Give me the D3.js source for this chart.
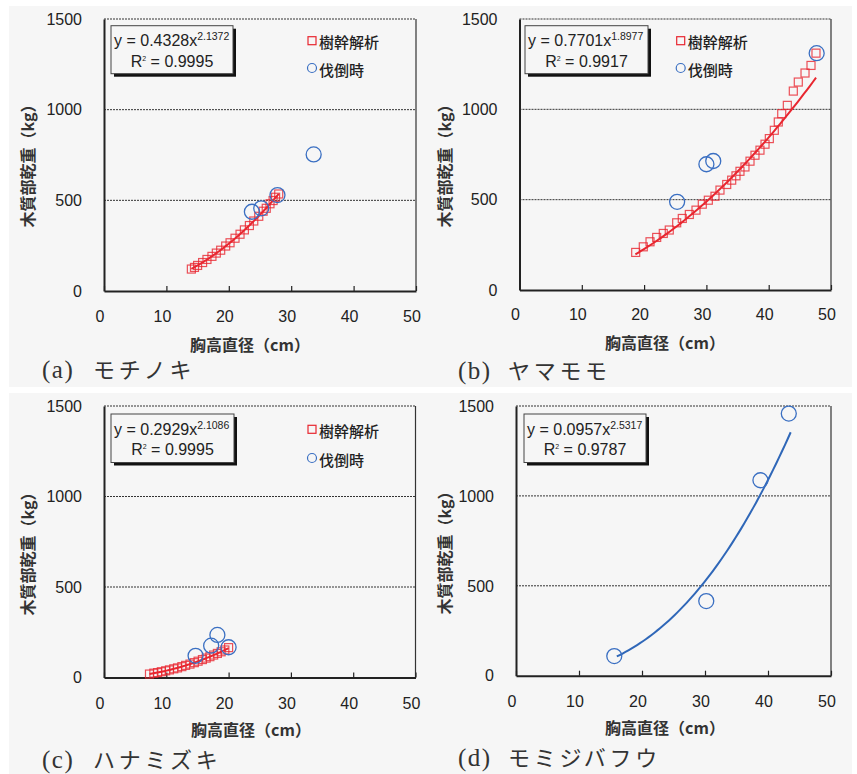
<!DOCTYPE html>
<html>
<head>
<meta charset="utf-8">
<script src="https://cdn.jsdelivr.net/npm/d3@7"></script>
<style>
  body { margin: 0; background: #fff; }
  svg { display: block; }
  .tick-lbl { font-family: "Liberation Sans", Arial, sans-serif; font-size: 16px; fill: #222; }
  .ax-title { font-family: "Noto Sans CJK JP", sans-serif; font-size: 16px; font-weight: bold; fill: #333; }
  .leg { font-family: "Noto Sans CJK JP", sans-serif; font-size: 15px; font-weight: 500; fill: #222; }
  .eq { font-family: "Liberation Sans", Arial, sans-serif; font-size: 16px; fill: #222; }
  .cap { font-family: "Liberation Serif", "Noto Sans CJK JP", serif; font-size: 22px; fill: #333; }
</style>
</head>
<body>
<svg id="chart" width="857" height="774"></svg>
<script>
// ---- data ----
const xTicks = [0, 10, 20, 30, 40, 50];
const yTicks = [0, 500, 1000, 1500];
const xTitle = "胸高直径（cm）";
const yTitle = "木質部乾重（kg）";
const legendNames = ["樹幹解析", "伐倒時"];

const captionLetters = ["(a)", "(b)", "(c)", "(d)"];
const speciesNames = ["モチノキ", "ヤマモモ", "ハナミズキ", "モミジバフウ"];

// power trend lines shown in each box: y = a * x^b
const fitA = [0.4328, 0.7701, 0.2929, 0.0957];
const fitB = [2.1372, 1.8977, 2.1086, 2.5317];
const fitR2 = ["0.9995", "0.9917", "0.9995", "0.9787"];
const fitXmin = [14, 18.6, 7.3, 16];
const fitXmax = [28, 47.6, 20, 43.6];
const fitColor = ["#e8262f", "#e8262f", "#e8262f", "#2f67b8"];

// 樹幹解析 (stem analysis) points [dbh, mass]
const stemA = [[14,121],[14.5,130],[15,141],[15.8,157],[16.5,174],[17.3,191],[18,209],[18.7,225],
  [19.5,248],[20.2,266],[21,291],[21.8,313],[22.5,337],[23.3,361],[24,386],[24.8,412],[25.5,440],
  [26,456],[26.6,481],[27.1,499],[27.5,517],[28,535]];
const stemB = [[18.65,208],[19.87,239],[20.95,267],[22.02,291],[23.08,313],[24.04,332],[25.23,372],
  [26.13,396],[27.26,418],[28.33,442],[29.34,475],[30.31,497],[31.38,519],[32.18,553],[33.26,584],
  [34.06,608],[34.75,632],[35.39,657],[36.19,681],[37.0,713],[37.8,746],[38.6,774],[39.41,807],
  [40.1,838],[40.9,884],[41.54,930],[42.09,976],[42.99,1022],[43.95,1101],[44.75,1151],[45.83,1201],
  [46.79,1243],[47.59,1311]];
const stemC = [[7.3,19],[8,24],[8.6,27],[9.2,32],[9.9,37],[10.5,42],[11.2,48],[11.8,53],[12.5,60],
  [13.1,67],[13.8,74],[14.5,82],[15.1,90],[15.8,99],[16.4,107],[17,115],[17.6,124],[18.2,133],
  [18.8,142],[19.4,152],[20,165]];
const stemD = [];

// 伐倒時 (felled) points [dbh, mass]
const fellA = [[23.7,437],[25.2,456],[27.8,529],[33.6,753]];
const fellB = [[25.3,488],[30.0,696],[31.1,714],[47.7,1311]];
const fellC = [[14.7,120],[17.2,176],[18.2,235],[20.0,167]];
const fellD = [[15.6,109],[30.2,415],[38.8,1087],[43.3,1458]];

const stemSets = [stemA, stemB, stemC, stemD];
const fellSets = [fellA, fellB, fellC, fellD];

// ---- layout ----
const panels = [
  { bg: [9, 6, 421, 381], l: 104, r: 416, t: 19, b: 291, box: [111, 25.7, 122, 48], leg: [312, 40.7, 68],
    xt: 250, xty: 351, yt: 28, yty: 162, tl: 322, cap: [42, 93, 378] },
  { bg: [430, 6, 422, 381], l: 519.5, r: 831, t: 19, b: 290, box: [525, 25.7, 123, 48], leg: [680.7, 40.7, 68],
    xt: 665, xty: 349, yt: 445, yty: 162, tl: 320, cap: [458, 508, 379] },
  { bg: [9, 393, 421, 381], l: 104, r: 415.5, t: 406, b: 677.5, box: [111, 414, 123, 48.5], leg: [312, 429.3, 458],
    xt: 251, xty: 736, yt: 28, yty: 550, tl: 709, cap: [42, 93, 768] },
  { bg: [430, 393, 422, 381], l: 516, r: 831, t: 406, b: 675.7, box: [524, 414, 122, 48.5], leg: null,
    xt: 665, xty: 734, yt: 445, yty: 549, tl: 707, cap: [458, 508, 766] }
];

const svg = d3.select("#chart");

panels.forEach((p, i) => {
  const g = svg.append("g");

  g.append("rect")
    .attr("x", p.bg[0]).attr("y", p.bg[1])
    .attr("width", p.bg[2]).attr("height", p.bg[3])
    .attr("fill", "#f6f6f6");

  const x = d3.scaleLinear().domain([0, 50]).range([p.l, p.r]);
  const y = d3.scaleLinear().domain([0, 1500]).range([p.b, p.t]);

  // dotted gridlines
  g.append("g")
    .selectAll("line")
    .data(yTicks.filter(d => d > 0))
    .join("line")
      .attr("x1", p.l).attr("x2", p.r)
      .attr("y1", d => y(d)).attr("y2", d => y(d))
      .attr("stroke", "#333")
      .attr("stroke-width", 1)
      .attr("stroke-dasharray", "2,1");

  // right frame
  g.append("line")
    .attr("x1", p.r).attr("x2", p.r).attr("y1", p.t).attr("y2", p.b)
    .attr("stroke", "#333").attr("stroke-width", 1.2);

  // x axis, ticks pointing inward
  const xAxis = g.append("g")
    .attr("transform", `translate(0,${p.b})`)
    .call(d3.axisBottom(x).tickValues(xTicks).tickSizeInner(-5).tickSizeOuter(0).tickFormat(""));
  xAxis.select(".domain").attr("stroke", "#222").attr("stroke-width", 2);
  xAxis.selectAll(".tick line").attr("stroke", "#222").attr("stroke-width", 1.2);

  g.append("g")
    .selectAll("text")
    .data(xTicks)
    .join("text")
      .attr("class", "tick-lbl")
      .attr("x", d => x(d) - 4)
      .attr("y", p.tl)
      .attr("text-anchor", "middle")
      .text(d => d);

  // y axis
  const yAxis = g.append("g")
    .attr("transform", `translate(${p.l},0)`)
    .call(d3.axisLeft(y).tickValues(yTicks).tickSize(0).tickFormat(""));
  yAxis.select(".domain").attr("stroke", "#222").attr("stroke-width", 2);

  g.append("g")
    .selectAll("text")
    .data(yTicks)
    .join("text")
      .attr("class", "tick-lbl")
      .attr("x", p.l - 22)
      .attr("y", d => y(d))
      .attr("dy", "0.36em")
      .attr("text-anchor", "end")
      .text(d => d);

  // axis titles
  g.append("text")
    .attr("class", "ax-title")
    .attr("x", p.xt).attr("y", p.xty)
    .attr("text-anchor", "middle")
    .text(xTitle);

  g.append("text")
    .attr("class", "ax-title")
    .attr("transform", `translate(${p.yt + 6},${p.yty}) rotate(-90)`)
    .attr("text-anchor", "middle")
    .text(yTitle);

  // stem analysis squares
  g.append("g")
    .selectAll("rect")
    .data(stemSets[i])
    .join("rect")
      .attr("x", d => x(d[0]) - 4)
      .attr("y", d => y(d[1]) - 4)
      .attr("width", 8).attr("height", 8)
      .attr("fill", "none")
      .attr("stroke", "#e8262f")
      .attr("stroke-opacity", 0.8)
      .attr("stroke-width", 1.2);

  // trend line from the fitted equation in the box
  const curvePts = d3.range(0, 61).map(k => {
    const xv = fitXmin[i] + (fitXmax[i] - fitXmin[i]) * k / 60;
    return [xv, fitA[i] * Math.pow(xv, fitB[i])];
  });
  g.append("path")
    .datum(curvePts)
    .attr("d", d3.line().x(d => x(d[0])).y(d => y(d[1])))
    .attr("fill", "none")
    .attr("stroke", fitColor[i])
    .attr("stroke-width", 2);

  // felled circles
  g.append("g")
    .selectAll("circle")
    .data(fellSets[i])
    .join("circle")
      .attr("cx", d => x(d[0]))
      .attr("cy", d => y(d[1]))
      .attr("r", 7.5)
      .attr("fill", "none")
      .attr("stroke", "#3a6fc2")
      .attr("stroke-width", 1.3);

  // equation box with shadow
  const [bx, by, bw, bh] = p.box;
  g.append("rect")
    .attr("x", bx + 3).attr("y", by + 3).attr("width", bw).attr("height", bh)
    .attr("fill", "#111");
  g.append("rect")
    .attr("x", bx).attr("y", by).attr("width", bw).attr("height", bh)
    .attr("fill", "#f6f6f6").attr("stroke", "#444").attr("stroke-width", 1);

  const eq = g.append("text")
    .attr("class", "eq")
    .attr("x", bx + 3).attr("y", by + 20.5);
  eq.append("tspan").text(`y = ${fitA[i].toFixed(4)}x`);
  eq.append("tspan").attr("dy", -6).style("font-size", "10.5px").text(fitB[i].toFixed(4));

  const r2 = g.append("text")
    .attr("class", "eq")
    .attr("x", bx + bw / 2).attr("y", by + 41)
    .attr("text-anchor", "middle");
  r2.append("tspan").text("R");
  r2.append("tspan").attr("dy", -6).style("font-size", "7px").text("2");
  r2.append("tspan").attr("dy", 6).text(` = ${fitR2[i]}`);

  // legend
  if (p.leg) {
    const [lx, ly1, ly2] = p.leg;
    g.append("rect")
      .attr("x", lx - 4).attr("y", ly1 - 4).attr("width", 8).attr("height", 8)
      .attr("fill", "none").attr("stroke", "#e8262f").attr("stroke-width", 1.2);
    g.append("text").attr("class", "leg")
      .attr("x", lx + 7).attr("y", ly1 + 2.5).attr("dy", "0.35em")
      .text(legendNames[0]);
    g.append("circle")
      .attr("cx", lx).attr("cy", ly2).attr("r", 4.5)
      .attr("fill", "none").attr("stroke", "#3a6fc2").attr("stroke-width", 1.2);
    g.append("text").attr("class", "leg")
      .attr("x", lx + 7).attr("y", ly2 + 3).attr("dy", "0.35em")
      .text(legendNames[1]);
  }

  // caption
  g.append("text").attr("class", "cap")
    .attr("x", p.cap[0]).attr("y", p.cap[2])
    .style("font-size", "25px")
    .style("letter-spacing", "1.5px")
    .text(captionLetters[i]);
  g.append("text").attr("class", "cap")
    .attr("x", p.cap[1]).attr("y", p.cap[2])
    .style("letter-spacing", "3.7px")
    .text(speciesNames[i]);
});
</script>
</body>
</html>
